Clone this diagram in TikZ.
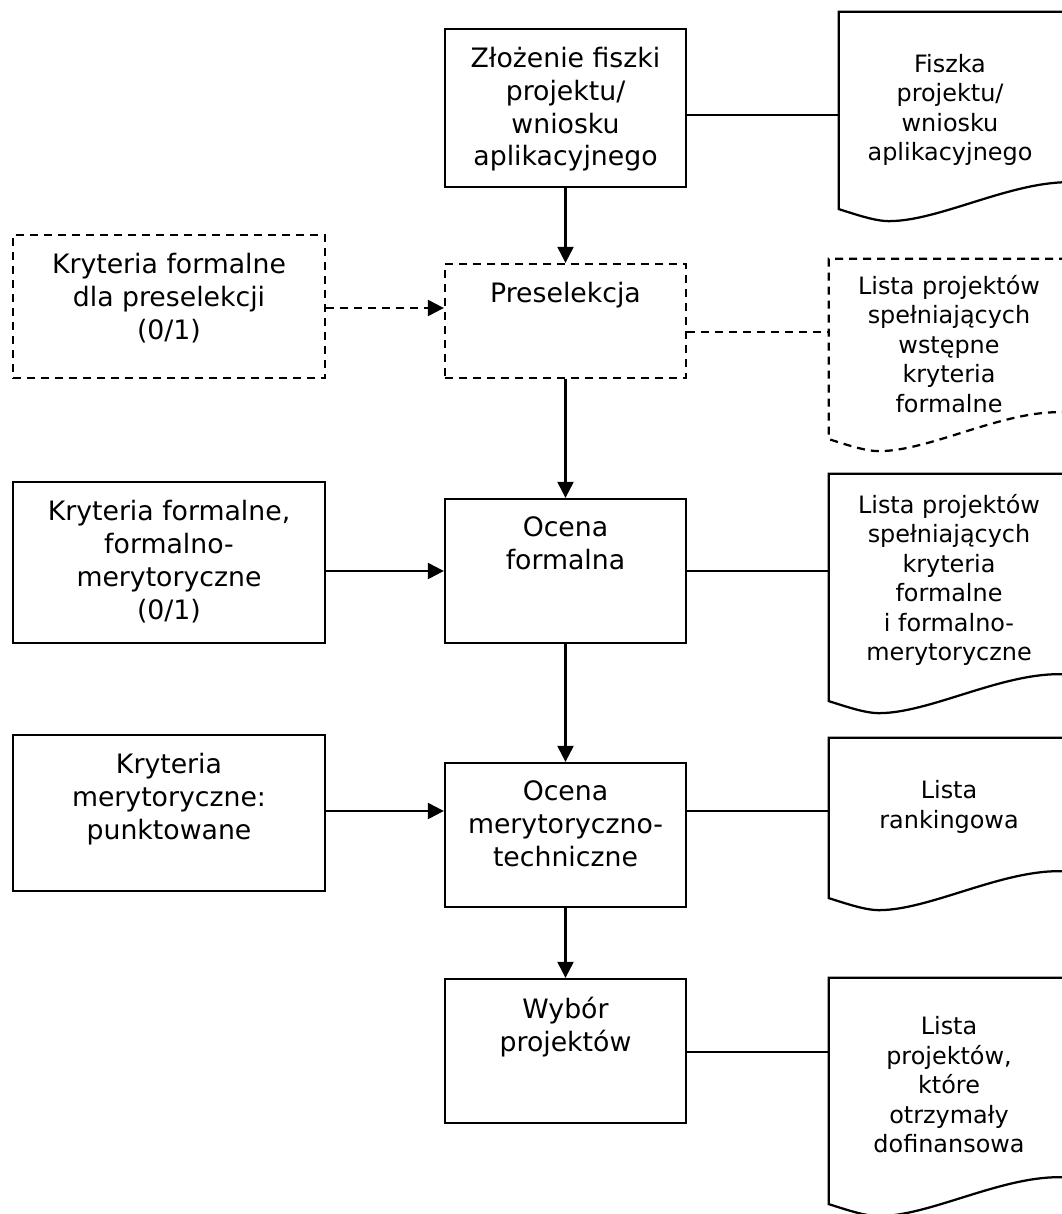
\documentclass[tikz,border=0pt]{standalone}
\usepackage{fontspec}
\setmainfont{DejaVu Sans}
\usetikzlibrary{arrows.meta}
\begin{document}
\begin{tikzpicture}[x=0.025cm,y=-0.025cm,line width=1.6pt]
\tikzset{s/.style={draw,rectangle,inner sep=0},
  t/.style={anchor=north,yshift=-0.45cm,inner sep=0,align=center,font=\fontsize{19}{23.4}\selectfont},
  d/.style={rectangle,inner sep=0,align=center,font=\fontsize{17}{21}\selectfont},
  p/.style={dash pattern=on 0.2cm off 0.15cm},
  strz/.style={-{Triangle[length=0.4cm,width=0.4cm]}}}
\useasboundingbox(0,0)rectangle(1062,1214);
% srodkowa kolumna
\path(565.5,108)node[s,minimum width=6.025cm,minimum height=3.95cm,label={[t]north:Złożenie fiszki\\projektu/\\wniosku\\aplikacyjnego}](A){};
\path(565.5,321)node[s,p,minimum width=6.025cm,minimum height=2.85cm,label={[t]north:Preselekcja}](P){};
\path(565.5,571)node[s,minimum width=6.025cm,minimum height=3.6cm,label={[t]north:Ocena\\formalna}](OF){};
\path(565.5,835)node[s,minimum width=6.025cm,minimum height=3.6cm,label={[t]north:Ocena\\merytoryczno-\\techniczne}](OM){};
\path(565.5,1051)node[s,minimum width=6.025cm,minimum height=3.6cm,label={[t]north:Wybór\\projektów}](W){};
% kryteria
\path(169,306.5)node[s,p,minimum width=7.8cm,minimum height=3.575cm,label={[t]north:Kryteria formalne\\dla preselekcji\\(0/1)}](K1){};
\path(169,562.5)node[s,minimum width=7.8cm,minimum height=4.025cm,label={[t]north:Kryteria formalne,\\formalno-\\merytoryczne\\(0/1)}](K2){};
\path(169,813)node[s,minimum width=7.8cm,minimum height=3.9cm,label={[t]north:Kryteria\\merytoryczne:\\punktowane}](K3){};
% dokumenty
\path(950,110)node[d,minimum width=5.5cm,minimum height=4.85cm](dA){Fiszka\\projektu/\\wniosku\\aplikacyjnego};
\path(949,344)node[d,minimum width=5.95cm,minimum height=4.2cm](dB){Lista projektów\\spełniających\\wstępne\\kryteria\\formalne};
\path(949,580)node[d,minimum width=5.95cm,minimum height=5.25cm](dC){Lista projektów\\spełniających\\kryteria\\formalne\\i formalno-\\merytoryczne};
\path(949,807)node[d,minimum width=5.95cm,minimum height=3.4cm](dD){Lista\\rankingowa};
\path(949,1085)node[d,minimum width=5.95cm,minimum height=5.3cm](dE){Lista\\projektów,\\które\\otrzymały\\dofinansowa};
\foreach \n/\st/\o in {dA/solid/0.025,dB/p/0.25,dC/solid/0.375,dD/solid/0.55,dE/solid/0.3}
\draw[\st]([xshift=1cm]\n.north east)--(\n.north west)--([yshift=-\o cm]\n.south west)
  ..controls +(16,5) and +(-14,0)..++(50,12)..controls +(50,0) and +(-60,0)..++(180,-39)--++(40,0);
% strzalki
\foreach \x/\y in {A/P,P/OF,OF/OM,OM/W}
\draw[strz](\x.south)--(\y.north);
\foreach \x/\y/\h/\st in {K1/P/308/p,K2/OF/571/solid,K3/OM/811/solid}
\draw[strz,\st](\x.east|-0,\h)--(\y.west|-0,\h);
\foreach \x/\y/\h/\st in {A/dA/115/solid,P/dB/332/p,OF/dC/571/solid,OM/dD/811/solid,W/dE/1052/solid}
\draw[\st](\x.east|-0,\h)--(\y.west|-0,\h);
\end{tikzpicture}
\end{document}
